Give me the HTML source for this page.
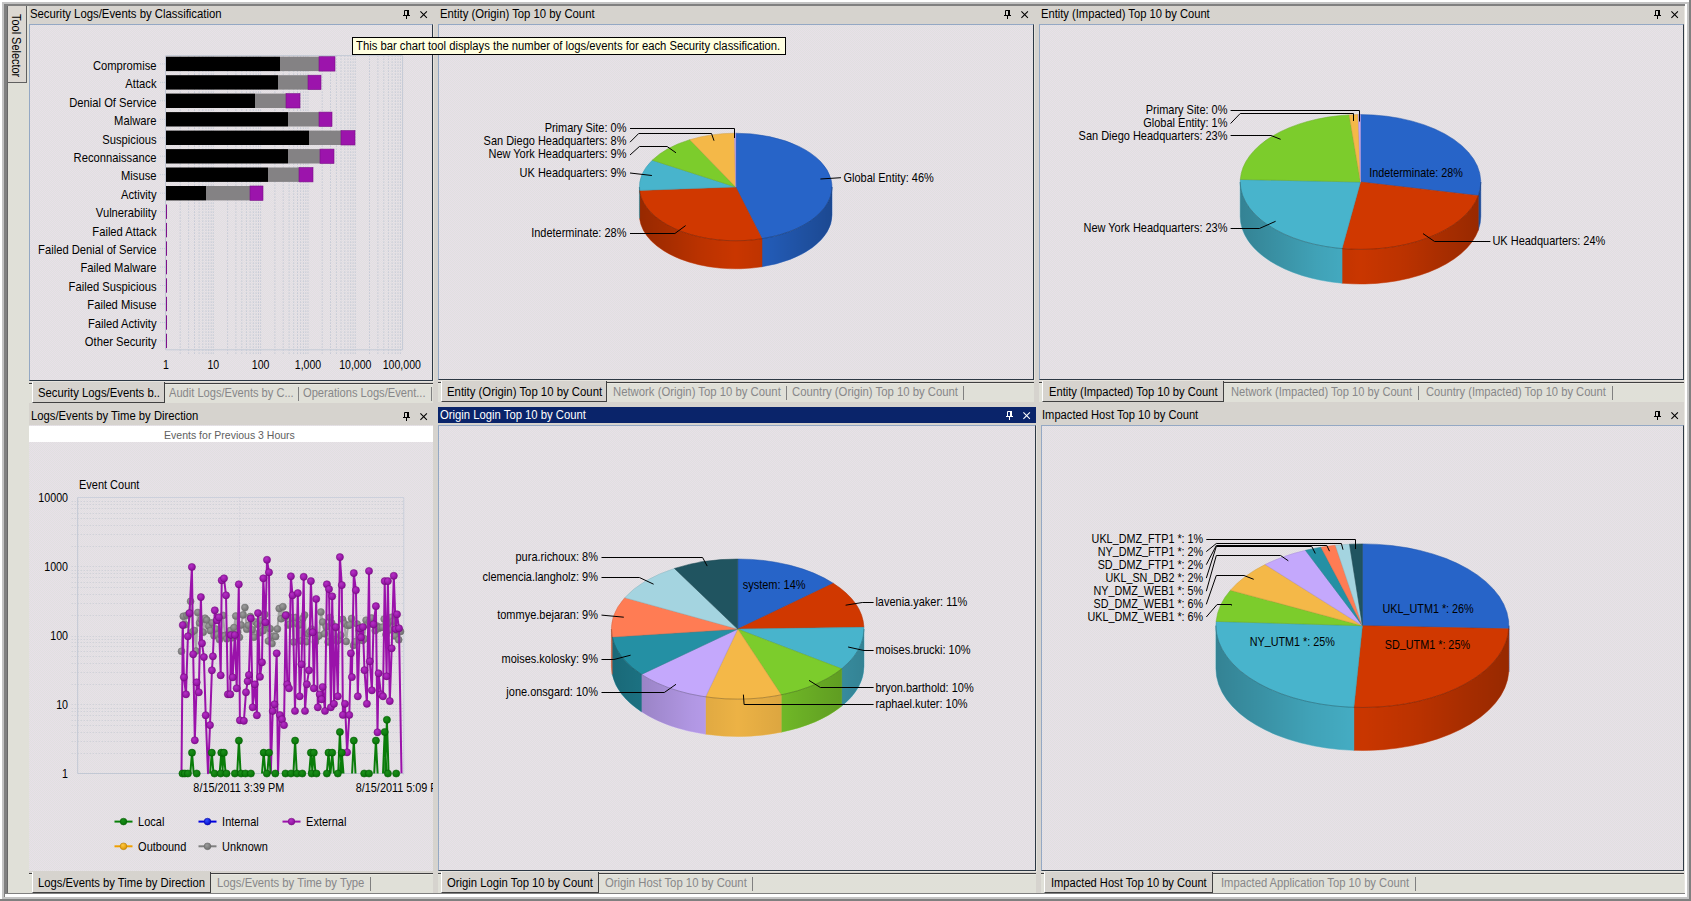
<!DOCTYPE html><html><head><meta charset="utf-8"><title>Dashboard</title><style>
html,body{margin:0;padding:0}
body{width:1691px;height:901px;position:relative;overflow:hidden;background:#d6d3ce;font-family:"Liberation Sans", Arial, sans-serif;font-size:12px;color:#000}
div{position:absolute;box-sizing:border-box;white-space:nowrap}
.cb{background:repeating-conic-gradient(#e8e0e8 0% 25%,#e0e0e0 0% 50%) 0 0/2px 2px}
.pn{border-top:1px solid #94a8c4;border-left:1px solid #94a8c4;border-right:1px solid #2c3844;border-bottom:1px solid #2c3844}
.tt{height:16px;line-height:16px;font-size:12px}
.sx{display:inline-block;transform:scaleX(.938);transform-origin:0 50%;white-space:nowrap}
.strip{background:#e0e0d8;border-top:1px solid #404040;box-shadow:inset 0 1px 0 #e9e8e1}
.tab{background:#d6d3ce;border-left:1px solid #fff;border-right:1px solid #404040;border-bottom:1px solid #404040;line-height:22px;font-size:12px}
.itab{color:#878789;font-size:12px;line-height:20px}
.sep{width:1px;background:#808080}
svg{position:absolute;left:0;top:0}
svg text{font-family:"Liberation Sans", Arial, sans-serif;font-size:12px;fill:#000}
</style></head><body>
<div style="left:0px;top:0px;width:1691px;height:2px;background:#fff"></div>
<div style="left:2px;top:2px;width:1687px;height:2px;background:#c4c4c4"></div>
<div style="left:4px;top:4px;width:1685px;height:2px;background:#808080"></div>
<div style="left:0px;top:0px;width:2px;height:901px;background:#fff"></div>
<div style="left:2px;top:2px;width:2px;height:897px;background:#c4c4c4"></div>
<div style="left:4px;top:4px;width:3px;height:893px;background:#808080"></div>
<div style="left:7px;top:6px;width:1px;height:888px;background:#686868"></div>
<div style="left:8px;top:6px;width:21px;height:887px;background:#e0e0d8"></div>
<div style="left:1684px;top:6px;width:1px;height:888px;background:#e8e6e0"></div>
<div style="left:1685px;top:4px;width:2px;height:893px;background:#fff"></div>
<div style="left:1687px;top:2px;width:2px;height:899px;background:#c4c4c4"></div>
<div style="left:1689px;top:0px;width:2px;height:901px;background:#808080"></div>
<div style="left:7px;top:893px;width:1678px;height:1px;background:#808080"></div>
<div style="left:5px;top:894px;width:1682px;height:3px;background:#fff"></div>
<div style="left:2px;top:897px;width:1687px;height:2px;background:#c4c4c4"></div>
<div style="left:0px;top:899px;width:1691px;height:2px;background:#808080"></div>
<div style="left:8px;top:6px;width:19px;height:77px;background:#dcd8d2;border-right:1px solid #606060;border-bottom:1px solid #606060"></div>
<div style="left:6.8px;top:14px;width:18px;height:64px;writing-mode:vertical-rl;font-size:12px;line-height:18px"><span style="display:inline-block;transform:scaleY(.912);transform-origin:50% 0">Tool Selector</span></div>
<div style="left:30.3px;top:6px;height:16px;line-height:16px;font-size:12px;"><span style="display:inline-block;transform:scaleX(0.9450);transform-origin:0 50%">Security Logs/Events by Classification</span></div>
<div class="cb pn" style="left:29px;top:24px;width:404px;height:357px;"></div>
<div style="left:433px;top:24px;width:1px;height:357px;background:#e6e3dd"></div>
<div style="left:29px;top:381px;width:405px;height:1px;background:#e6e3dd"></div>
<div class="strip" style="left:29px;top:383px;width:404px;height:20px;"></div>
<div class="tab" style="left:32px;top:382px;width:133px;height:21px;"></div>
<div style="left:37.5px;top:387px;height:13px;line-height:13px;font-size:12px;"><span style="display:inline-block;transform:scaleX(0.9428);transform-origin:0 50%">Security Logs/Events b..</span></div>
<div style="left:169.0px;top:387px;height:13px;line-height:13px;font-size:12px;color:#878789"><span style="display:inline-block;transform:scaleX(0.9255);transform-origin:0 50%">Audit Logs/Events by C...</span></div>
<div class="sep" style="left:298px;top:387px;width:1px;height:14px;"></div>
<div style="left:303.2px;top:387px;height:13px;line-height:13px;font-size:12px;color:#878789"><span style="display:inline-block;transform:scaleX(0.9275);transform-origin:0 50%">Operations Logs/Event...</span></div>
<div class="sep" style="left:430.5px;top:387px;width:1px;height:14px;"></div>
<div style="left:439.6px;top:6px;height:16px;line-height:16px;font-size:12px;"><span style="display:inline-block;transform:scaleX(0.9435);transform-origin:0 50%">Entity (Origin) Top 10 by Count</span></div>
<div class="cb pn" style="left:438px;top:24px;width:596px;height:356px;"></div>
<div style="left:1034px;top:24px;width:1px;height:356px;background:#e6e3dd"></div>
<div style="left:438px;top:380px;width:597px;height:1px;background:#e6e3dd"></div>
<div class="strip" style="left:438px;top:382px;width:596px;height:20px;"></div>
<div class="tab" style="left:441px;top:381px;width:166px;height:21px;"></div>
<div style="left:446.5px;top:386px;height:13px;line-height:13px;font-size:12px;"><span style="display:inline-block;transform:scaleX(0.9466);transform-origin:0 50%">Entity (Origin) Top 10 by Count</span></div>
<div style="left:612.6999999999999px;top:386px;height:13px;line-height:13px;font-size:12px;color:#878789"><span style="display:inline-block;transform:scaleX(0.9435);transform-origin:0 50%">Network (Origin) Top 10 by Count</span></div>
<div class="sep" style="left:785.5px;top:386px;width:1px;height:14px;"></div>
<div style="left:791.5999999999999px;top:386px;height:13px;line-height:13px;font-size:12px;color:#878789"><span style="display:inline-block;transform:scaleX(0.9439);transform-origin:0 50%">Country (Origin) Top 10 by Count</span></div>
<div class="sep" style="left:962.5px;top:386px;width:1px;height:14px;"></div>
<div style="left:1040.6px;top:6px;height:16px;line-height:16px;font-size:12px;"><span style="display:inline-block;transform:scaleX(0.9310);transform-origin:0 50%">Entity (Impacted) Top 10 by Count</span></div>
<div class="cb pn" style="left:1039px;top:24px;width:645px;height:356px;"></div>
<div style="left:1684px;top:24px;width:1px;height:356px;background:#e6e3dd"></div>
<div style="left:1039px;top:380px;width:646px;height:1px;background:#e6e3dd"></div>
<div class="strip" style="left:1039px;top:382px;width:645px;height:20px;"></div>
<div class="tab" style="left:1042px;top:381px;width:182px;height:21px;"></div>
<div style="left:1049.0px;top:386px;height:13px;line-height:13px;font-size:12px;"><span style="display:inline-block;transform:scaleX(0.9299);transform-origin:0 50%">Entity (Impacted) Top 10 by Count</span></div>
<div style="left:1231.2px;top:386px;height:13px;line-height:13px;font-size:12px;color:#878789"><span style="display:inline-block;transform:scaleX(0.9277);transform-origin:0 50%">Network (Impacted) Top 10 by Count</span></div>
<div class="sep" style="left:1418px;top:386px;width:1px;height:14px;"></div>
<div style="left:1425.6px;top:386px;height:13px;line-height:13px;font-size:12px;color:#878789"><span style="display:inline-block;transform:scaleX(0.9311);transform-origin:0 50%">Country (Impacted) Top 10 by Count</span></div>
<div class="sep" style="left:1611.5px;top:386px;width:1px;height:14px;"></div>
<div style="left:30.6px;top:408px;height:16px;line-height:16px;font-size:12px;"><span style="display:inline-block;transform:scaleX(0.9400);transform-origin:0 50%">Logs/Events by Time by Direction</span></div>
<div class="cb" style="left:29px;top:425px;width:404px;height:446px;"></div>
<div class="strip" style="left:29px;top:873px;width:404px;height:20px;"></div>
<div class="tab" style="left:32px;top:872px;width:179px;height:21px;"></div>
<div style="left:37.599999999999994px;top:877px;height:13px;line-height:13px;font-size:12px;"><span style="display:inline-block;transform:scaleX(0.9372);transform-origin:0 50%">Logs/Events by Time by Direction</span></div>
<div style="left:216.9px;top:877px;height:13px;line-height:13px;font-size:12px;color:#878789"><span style="display:inline-block;transform:scaleX(0.9417);transform-origin:0 50%">Logs/Events by Time by Type</span></div>
<div class="sep" style="left:370px;top:877px;width:1px;height:14px;"></div>
<div style="left:438px;top:407px;width:598px;height:16px;background:#0a246a"></div>
<div style="left:439.6px;top:407px;height:16px;line-height:16px;font-size:12px;color:#fff"><span style="display:inline-block;transform:scaleX(0.9400);transform-origin:0 50%">Origin Login Top 10 by Count</span></div>
<div class="cb pn" style="left:438px;top:425px;width:598px;height:446px;"></div>
<div style="left:1036px;top:425px;width:1px;height:446px;background:#e6e3dd"></div>
<div style="left:438px;top:871px;width:599px;height:1px;background:#e6e3dd"></div>
<div class="strip" style="left:438px;top:873px;width:598px;height:20px;"></div>
<div class="tab" style="left:441px;top:872px;width:158px;height:21px;"></div>
<div style="left:446.5px;top:877px;height:13px;line-height:13px;font-size:12px;"><span style="display:inline-block;transform:scaleX(0.9400);transform-origin:0 50%">Origin Login Top 10 by Count</span></div>
<div style="left:604.5999999999999px;top:877px;height:13px;line-height:13px;font-size:12px;color:#878789"><span style="display:inline-block;transform:scaleX(0.9420);transform-origin:0 50%">Origin Host Top 10 by Count</span></div>
<div class="sep" style="left:751.5px;top:877px;width:1px;height:14px;"></div>
<div style="left:1042.3px;top:407px;height:16px;line-height:16px;font-size:12px;"><span style="display:inline-block;transform:scaleX(0.9305);transform-origin:0 50%">Impacted Host Top 10 by Count</span></div>
<div class="cb pn" style="left:1041px;top:425px;width:643px;height:446px;"></div>
<div style="left:1684px;top:425px;width:1px;height:446px;background:#e6e3dd"></div>
<div style="left:1041px;top:871px;width:644px;height:1px;background:#e6e3dd"></div>
<div class="strip" style="left:1041px;top:873px;width:643px;height:20px;"></div>
<div class="tab" style="left:1044px;top:872px;width:169px;height:21px;"></div>
<div style="left:1050.8px;top:877px;height:13px;line-height:13px;font-size:12px;"><span style="display:inline-block;transform:scaleX(0.9275);transform-origin:0 50%">Impacted Host Top 10 by Count</span></div>
<div style="left:1220.6px;top:877px;height:13px;line-height:13px;font-size:12px;color:#878789"><span style="display:inline-block;transform:scaleX(0.9342);transform-origin:0 50%">Impacted Application Top 10 by Count</span></div>
<div class="sep" style="left:1414.5px;top:877px;width:1px;height:14px;"></div>
<div style="left:29px;top:426px;width:404px;height:16px;background:#fff;text-align:center;line-height:16px;color:#606060"><span class="sx" style="transform-origin:50% 50%;font-size:11px;transform:scaleX(.955);position:relative;top:1px;left:-1.5px">Events for Previous 3 Hours</span></div>
<div style="left:352px;top:37px;width:434px;height:18px;background:#ffffe1;border:1px solid #000;line-height:16px;padding-left:3px;z-index:5"><span class="sx">This bar chart tool displays the number of logs/events for each Security classification.</span></div>
<svg width="1691" height="901" viewBox="0 0 1691 901">
<path d="M420.4 11.4L426.9 17.9M426.9 11.4L420.4 17.9" stroke="#000" stroke-width="1.05" fill="none"/><path d="M404.5 15.5V10.5H408V15.5M403 15.5H410M406.5 16V19" stroke="#000" stroke-width="1" fill="none"/><rect x="407" y="10" width="2" height="6" fill="#000"/>
<path d="M1021.4 11.4L1027.9 17.9M1027.9 11.4L1021.4 17.9" stroke="#000" stroke-width="1.05" fill="none"/><path d="M1005.5 15.5V10.5H1009V15.5M1004 15.5H1011M1007.5 16V19" stroke="#000" stroke-width="1" fill="none"/><rect x="1008" y="10" width="2" height="6" fill="#000"/>
<path d="M1671.4 11.4L1677.9 17.9M1677.9 11.4L1671.4 17.9" stroke="#000" stroke-width="1.05" fill="none"/><path d="M1655.5 15.5V10.5H1659V15.5M1654 15.5H1661M1657.5 16V19" stroke="#000" stroke-width="1" fill="none"/><rect x="1658" y="10" width="2" height="6" fill="#000"/>
<path d="M420.4 413.4L426.9 419.9M426.9 413.4L420.4 419.9" stroke="#000" stroke-width="1.05" fill="none"/><path d="M404.5 417.5V412.5H408V417.5M403 417.5H410M406.5 418V421" stroke="#000" stroke-width="1" fill="none"/><rect x="407" y="412" width="2" height="6" fill="#000"/>
<path d="M1023.4 412.4L1029.9 418.9M1029.9 412.4L1023.4 418.9" stroke="#fff" stroke-width="1.05" fill="none"/><path d="M1007.5 416.5V411.5H1011V416.5M1006 416.5H1013M1009.5 417V420" stroke="#fff" stroke-width="1" fill="none"/><rect x="1010" y="411" width="2" height="6" fill="#fff"/>
<path d="M1671.4 412.4L1677.9 418.9M1677.9 412.4L1671.4 418.9" stroke="#000" stroke-width="1.05" fill="none"/><path d="M1655.5 416.5V411.5H1659V416.5M1654 416.5H1661M1657.5 417V420" stroke="#000" stroke-width="1" fill="none"/><rect x="1658" y="411" width="2" height="6" fill="#000"/>
<path d="M180.2 55.6V353.8M188.6 55.6V353.8M194.5 55.6V353.8M199.1 55.6V353.8M202.8 55.6V353.8M206.0 55.6V353.8M208.7 55.6V353.8M211.2 55.6V353.8M227.6 55.6V353.8M235.9 55.6V353.8M241.8 55.6V353.8M246.4 55.6V353.8M250.1 55.6V353.8M253.3 55.6V353.8M256.1 55.6V353.8M258.5 55.6V353.8M213.3 55.6V353.8M274.9 55.6V353.8M283.2 55.6V353.8M289.1 55.6V353.8M293.7 55.6V353.8M297.5 55.6V353.8M300.6 55.6V353.8M303.4 55.6V353.8M305.8 55.6V353.8M260.6 55.6V353.8M322.2 55.6V353.8M330.5 55.6V353.8M336.4 55.6V353.8M341.0 55.6V353.8M344.8 55.6V353.8M348.0 55.6V353.8M350.7 55.6V353.8M353.1 55.6V353.8M308.0 55.6V353.8M369.5 55.6V353.8M377.9 55.6V353.8M383.8 55.6V353.8M388.4 55.6V353.8M392.1 55.6V353.8M395.3 55.6V353.8M398.0 55.6V353.8M400.4 55.6V353.8M355.3 55.6V353.8" stroke="#b4bece" stroke-width="1" stroke-dasharray="1 2" fill="none"/>
<path d="M166.0 55.6H402.6V349.8H166.0" stroke="#c4cad6" stroke-width="1" fill="none"/>
<path d="M165.5 55.6V349.8" stroke="#c0c6d4" stroke-width="1" fill="none"/>
<text transform="translate(156.5 70.0) scale(0.935 1)" text-anchor="end">Compromise</text>
<path d="M160.0 63.9H165.0" stroke="#c4ccd8" stroke-dasharray="1 1" fill="none"/>
<rect x="166.0" y="56.7" width="114.0" height="14.4" fill="#000"/>
<rect x="280" y="56.7" width="39" height="14.4" fill="#848284"/>
<rect x="319" y="56.7" width="16" height="14.4" fill="#9c14ac" stroke="#7a1088" stroke-width=".6"/>
<text transform="translate(156.5 88.4) scale(0.935 1)" text-anchor="end">Attack</text>
<path d="M160.0 82.4H165.0" stroke="#c4ccd8" stroke-dasharray="1 1" fill="none"/>
<rect x="166.0" y="75.2" width="112.0" height="14.4" fill="#000"/>
<rect x="278" y="75.2" width="30" height="14.4" fill="#848284"/>
<rect x="308" y="75.2" width="13" height="14.4" fill="#9c14ac" stroke="#7a1088" stroke-width=".6"/>
<text transform="translate(156.5 106.8) scale(0.935 1)" text-anchor="end">Denial Of Service</text>
<path d="M160.0 100.8H165.0" stroke="#c4ccd8" stroke-dasharray="1 1" fill="none"/>
<rect x="166.0" y="93.6" width="89.0" height="14.4" fill="#000"/>
<rect x="255" y="93.6" width="31" height="14.4" fill="#848284"/>
<rect x="286" y="93.6" width="14" height="14.4" fill="#9c14ac" stroke="#7a1088" stroke-width=".6"/>
<text transform="translate(156.5 125.2) scale(0.935 1)" text-anchor="end">Malware</text>
<path d="M160.0 119.3H165.0" stroke="#c4ccd8" stroke-dasharray="1 1" fill="none"/>
<rect x="166.0" y="112.1" width="122.0" height="14.4" fill="#000"/>
<rect x="288" y="112.1" width="31" height="14.4" fill="#848284"/>
<rect x="319" y="112.1" width="13" height="14.4" fill="#9c14ac" stroke="#7a1088" stroke-width=".6"/>
<text transform="translate(156.5 143.6) scale(0.935 1)" text-anchor="end">Suspicious</text>
<path d="M160.0 137.8H165.0" stroke="#c4ccd8" stroke-dasharray="1 1" fill="none"/>
<rect x="166.0" y="130.6" width="143.0" height="14.4" fill="#000"/>
<rect x="309" y="130.6" width="32" height="14.4" fill="#848284"/>
<rect x="341" y="130.6" width="14" height="14.4" fill="#9c14ac" stroke="#7a1088" stroke-width=".6"/>
<text transform="translate(156.5 162.0) scale(0.935 1)" text-anchor="end">Reconnaissance</text>
<path d="M160.0 156.2H165.0" stroke="#c4ccd8" stroke-dasharray="1 1" fill="none"/>
<rect x="166.0" y="149.1" width="122.0" height="14.4" fill="#000"/>
<rect x="288" y="149.1" width="32" height="14.4" fill="#848284"/>
<rect x="320" y="149.1" width="14" height="14.4" fill="#9c14ac" stroke="#7a1088" stroke-width=".6"/>
<text transform="translate(156.5 180.4) scale(0.935 1)" text-anchor="end">Misuse</text>
<path d="M160.0 174.7H165.0" stroke="#c4ccd8" stroke-dasharray="1 1" fill="none"/>
<rect x="166.0" y="167.5" width="102.0" height="14.4" fill="#000"/>
<rect x="268" y="167.5" width="31" height="14.4" fill="#848284"/>
<rect x="299" y="167.5" width="14" height="14.4" fill="#9c14ac" stroke="#7a1088" stroke-width=".6"/>
<text transform="translate(156.5 198.8) scale(0.935 1)" text-anchor="end">Activity</text>
<path d="M160.0 193.2H165.0" stroke="#c4ccd8" stroke-dasharray="1 1" fill="none"/>
<rect x="166.0" y="186.0" width="40.0" height="14.4" fill="#000"/>
<rect x="206" y="186.0" width="44" height="14.4" fill="#848284"/>
<rect x="250" y="186.0" width="13" height="14.4" fill="#9c14ac" stroke="#7a1088" stroke-width=".6"/>
<text transform="translate(156.5 217.2) scale(0.935 1)" text-anchor="end">Vulnerability</text>
<path d="M160.0 211.7H165.0" stroke="#c4ccd8" stroke-dasharray="1 1" fill="none"/>
<rect x="166.0" y="204.5" width="1" height="14.4" fill="#80108a"/>
<text transform="translate(156.5 235.6) scale(0.935 1)" text-anchor="end">Failed Attack</text>
<path d="M160.0 230.1H165.0" stroke="#c4ccd8" stroke-dasharray="1 1" fill="none"/>
<rect x="166.0" y="222.9" width="1" height="14.4" fill="#80108a"/>
<text transform="translate(156.5 254.0) scale(0.935 1)" text-anchor="end">Failed Denial of Service</text>
<path d="M160.0 248.6H165.0" stroke="#c4ccd8" stroke-dasharray="1 1" fill="none"/>
<rect x="166.0" y="241.4" width="1" height="14.4" fill="#80108a"/>
<text transform="translate(156.5 272.4) scale(0.935 1)" text-anchor="end">Failed Malware</text>
<path d="M160.0 267.1H165.0" stroke="#c4ccd8" stroke-dasharray="1 1" fill="none"/>
<rect x="166.0" y="259.9" width="1" height="14.4" fill="#80108a"/>
<text transform="translate(156.5 290.8) scale(0.935 1)" text-anchor="end">Failed Suspicious</text>
<path d="M160.0 285.5H165.0" stroke="#c4ccd8" stroke-dasharray="1 1" fill="none"/>
<rect x="166.0" y="278.3" width="1" height="14.4" fill="#80108a"/>
<text transform="translate(156.5 309.2) scale(0.935 1)" text-anchor="end">Failed Misuse</text>
<path d="M160.0 304.0H165.0" stroke="#c4ccd8" stroke-dasharray="1 1" fill="none"/>
<rect x="166.0" y="296.8" width="1" height="14.4" fill="#80108a"/>
<text transform="translate(156.5 327.6) scale(0.935 1)" text-anchor="end">Failed Activity</text>
<path d="M160.0 322.5H165.0" stroke="#c4ccd8" stroke-dasharray="1 1" fill="none"/>
<rect x="166.0" y="315.3" width="1" height="14.4" fill="#80108a"/>
<text transform="translate(156.5 346.0) scale(0.935 1)" text-anchor="end">Other Security</text>
<path d="M160.0 340.9H165.0" stroke="#c4ccd8" stroke-dasharray="1 1" fill="none"/>
<rect x="166.0" y="333.7" width="1" height="14.4" fill="#80108a"/>
<text transform="translate(166.0 369.0) scale(0.88 1)" text-anchor="middle">1</text>
<text transform="translate(213.3 369.0) scale(0.88 1)" text-anchor="middle">10</text>
<text transform="translate(260.6 369.0) scale(0.88 1)" text-anchor="middle">100</text>
<text transform="translate(308.0 369.0) scale(0.88 1)" text-anchor="middle">1,000</text>
<text transform="translate(355.3 369.0) scale(0.88 1)" text-anchor="middle">10,000</text>
<text transform="translate(401.8 369.0) scale(0.88 1)" text-anchor="middle">100,000</text>
<defs><linearGradient id="pg1" gradientUnits="userSpaceOnUse" x1="639.4000000000001" y1="0" x2="832.0" y2="0"><stop offset="0" stop-color="#000" stop-opacity=".25"/><stop offset=".15" stop-color="#000" stop-opacity=".17"/><stop offset=".32" stop-color="#000" stop-opacity=".07"/><stop offset=".5" stop-color="#000" stop-opacity="0"/><stop offset=".68" stop-color="#000" stop-opacity=".07"/><stop offset=".85" stop-color="#000" stop-opacity=".17"/><stop offset="1" stop-color="#000" stop-opacity=".25"/></linearGradient></defs>
<path d="M832.00 187.00A96.3 53.8 0 0 1 761.99 238.76L761.99 266.76A96.3 53.8 0 0 0 832.00 215.00Z" fill="#2561c2" stroke="#2561c2" stroke-width=".5"/>
<path d="M761.99 238.76A96.3 53.8 0 0 1 639.59 190.38L639.59 218.38A96.3 53.8 0 0 0 761.99 266.76Z" fill="#c93600" stroke="#c93600" stroke-width=".5"/>
<path d="M639.59 190.38A96.3 53.8 0 0 1 639.40 187.00L639.40 215.00A96.3 53.8 0 0 0 639.59 218.38Z" fill="#45aec5" stroke="#45aec5" stroke-width=".5"/>
<path d="M832.0 187A96.3 53.8 0 0 1 639.4000000000001 187L639.4000000000001 215A96.3 53.8 0 0 0 832.0 215Z" fill="url(#pg1)"/>
<path d="M735.7 187L735.70 133.20A96.3 53.8 0 0 1 761.99 238.76Z" fill="#2764c8" stroke="#2155aa" stroke-width=".5"/>
<path d="M735.7 187L761.99 238.76A96.3 53.8 0 0 1 639.59 190.38Z" fill="#d03800" stroke="#b02f00" stroke-width=".5"/>
<path d="M735.7 187L639.59 190.38A96.3 53.8 0 0 1 652.20 160.20Z" fill="#48b4cc" stroke="#3d99ad" stroke-width=".5"/>
<path d="M735.7 187L652.20 160.20A96.3 53.8 0 0 1 689.84 139.69Z" fill="#7ccc2c" stroke="#69ad25" stroke-width=".5"/>
<path d="M735.7 187L689.84 139.69A96.3 53.8 0 0 1 734.49 133.20Z" fill="#f4b848" stroke="#cf9c3d" stroke-width=".5"/>
<path d="M735.7 187L734.49 133.20A96.3 53.8 0 0 1 735.70 133.20Z" fill="#c4a8fc" stroke="#a68ed6" stroke-width=".5"/>
<path d="M832.0 187A96.3 53.8 0 0 1 639.4000000000001 187" fill="none" stroke="#000" stroke-opacity=".25" stroke-width=".8"/>
<text transform="translate(626.4 131.6) scale(0.915 1)" text-anchor="end">Primary Site: 0%</text>
<text transform="translate(626.4 145.0) scale(0.915 1)" text-anchor="end">San Diego Headquarters: 8%</text>
<text transform="translate(626.4 158.2) scale(0.915 1)" text-anchor="end">New York Headquarters: 9%</text>
<text transform="translate(626.4 177.0) scale(0.915 1)" text-anchor="end">UK Headquarters: 9%</text>
<text transform="translate(626.4 237.3) scale(0.915 1)" text-anchor="end">Indeterminate: 28%</text>
<text transform="translate(843.5 182.0) scale(0.915 1)" text-anchor="start">Global Entity: 46%</text>
<path d="M630.0 128.5L734.5 128.5L734.5 138.0" fill="none" stroke="#000" stroke-width="1"/>
<path d="M630.0 142.2L638.7 133.5L711.5 133.5L714.0 140.7" fill="none" stroke="#000" stroke-width="1"/>
<path d="M630.0 155.0L639.4 146.5L667.1 146.5L676.0 152.8" fill="none" stroke="#000" stroke-width="1"/>
<path d="M630.0 173.0L651.9 175.5" fill="none" stroke="#000" stroke-width="1"/>
<path d="M630.0 233.5L674.9 233.5L685.6 225.6" fill="none" stroke="#000" stroke-width="1"/>
<path d="M841.0 177.7L820.4 179.0" fill="none" stroke="#000" stroke-width="1"/>
<defs><linearGradient id="pg2" gradientUnits="userSpaceOnUse" x1="1240.2" y1="0" x2="1480.8" y2="0"><stop offset="0" stop-color="#000" stop-opacity=".25"/><stop offset=".15" stop-color="#000" stop-opacity=".17"/><stop offset=".32" stop-color="#000" stop-opacity=".07"/><stop offset=".5" stop-color="#000" stop-opacity="0"/><stop offset=".68" stop-color="#000" stop-opacity=".07"/><stop offset=".85" stop-color="#000" stop-opacity=".17"/><stop offset="1" stop-color="#000" stop-opacity=".25"/></linearGradient></defs>
<path d="M1480.80 182.00A120.3 67.4 0 0 1 1478.30 195.67L1478.30 230.27A120.3 67.4 0 0 0 1480.80 216.60Z" fill="#2561c2" stroke="#2561c2" stroke-width=".5"/>
<path d="M1478.30 195.67A120.3 67.4 0 0 1 1342.05 248.60L1342.05 283.20A120.3 67.4 0 0 0 1478.30 230.27Z" fill="#c93600" stroke="#c93600" stroke-width=".5"/>
<path d="M1342.05 248.60A120.3 67.4 0 0 1 1240.20 182.00L1240.20 216.60A120.3 67.4 0 0 0 1342.05 283.20Z" fill="#45aec5" stroke="#45aec5" stroke-width=".5"/>
<path d="M1480.8 182A120.3 67.4 0 0 1 1240.2 182L1240.2 216.6A120.3 67.4 0 0 0 1480.8 216.6Z" fill="url(#pg2)"/>
<path d="M1360.5 182L1360.50 114.60A120.3 67.4 0 0 1 1478.30 195.67Z" fill="#2764c8" stroke="#2155aa" stroke-width=".5"/>
<path d="M1360.5 182L1478.30 195.67A120.3 67.4 0 0 1 1342.05 248.60Z" fill="#d03800" stroke="#b02f00" stroke-width=".5"/>
<path d="M1360.5 182L1342.05 248.60A120.3 67.4 0 0 1 1240.29 179.46Z" fill="#48b4cc" stroke="#3d99ad" stroke-width=".5"/>
<path d="M1360.5 182L1240.29 179.46A120.3 67.4 0 0 1 1349.18 114.90Z" fill="#7ccc2c" stroke="#69ad25" stroke-width=".5"/>
<path d="M1360.5 182L1349.18 114.90A120.3 67.4 0 0 1 1358.23 114.61Z" fill="#f4b848" stroke="#cf9c3d" stroke-width=".5"/>
<path d="M1360.5 182L1358.23 114.61A120.3 67.4 0 0 1 1360.50 114.60Z" fill="#c4a8fc" stroke="#a68ed6" stroke-width=".5"/>
<path d="M1480.8 182A120.3 67.4 0 0 1 1240.2 182" fill="none" stroke="#000" stroke-opacity=".25" stroke-width=".8"/>
<text transform="translate(1227.5 113.9) scale(0.915 1)" text-anchor="end">Primary Site: 0%</text>
<text transform="translate(1227.5 126.6) scale(0.915 1)" text-anchor="end">Global Entity: 1%</text>
<text transform="translate(1227.5 140.1) scale(0.915 1)" text-anchor="end">San Diego Headquarters: 23%</text>
<text transform="translate(1227.5 231.7) scale(0.915 1)" text-anchor="end">New York Headquarters: 23%</text>
<text transform="translate(1492.4 245.3) scale(0.915 1)" text-anchor="start">UK Headquarters: 24%</text>
<text transform="translate(1369.2 177.3) scale(0.9 1)" text-anchor="start">Indeterminate: 28%</text>
<path d="M1230.6 110.5L1359.5 110.5L1359.5 121.5" fill="none" stroke="#000" stroke-width="1"/>
<path d="M1230.6 123.5L1240.2 113.5L1353.5 113.5L1353.5 121.0" fill="none" stroke="#000" stroke-width="1"/>
<path d="M1230.6 135.5L1271.0 135.5L1280.6 139.3" fill="none" stroke="#000" stroke-width="1"/>
<path d="M1230.6 228.5L1259.4 228.5L1275.6 221.3" fill="none" stroke="#000" stroke-width="1"/>
<path d="M1490.4 241.5L1434.6 241.5L1423.0 233.6" fill="none" stroke="#000" stroke-width="1"/>
<defs><linearGradient id="pg3" gradientUnits="userSpaceOnUse" x1="611.4000000000001" y1="0" x2="864.0" y2="0"><stop offset="0" stop-color="#000" stop-opacity=".25"/><stop offset=".15" stop-color="#000" stop-opacity=".17"/><stop offset=".32" stop-color="#000" stop-opacity=".07"/><stop offset=".5" stop-color="#000" stop-opacity="0"/><stop offset=".68" stop-color="#000" stop-opacity=".07"/><stop offset=".85" stop-color="#000" stop-opacity=".17"/><stop offset="1" stop-color="#000" stop-opacity=".25"/></linearGradient></defs>
<path d="M864.00 629.10A126.3 70.1 0 0 1 841.71 668.87L841.71 706.17A126.3 70.1 0 0 0 864.00 666.40Z" fill="#45aec5" stroke="#45aec5" stroke-width=".5"/>
<path d="M841.71 668.87A126.3 70.1 0 0 1 781.23 694.91L781.23 732.21A126.3 70.1 0 0 0 841.71 706.17Z" fill="#78c52a" stroke="#78c52a" stroke-width=".5"/>
<path d="M781.23 694.91A126.3 70.1 0 0 1 705.52 696.89L705.52 734.19A126.3 70.1 0 0 0 781.23 732.21Z" fill="#ecb245" stroke="#ecb245" stroke-width=".5"/>
<path d="M705.52 696.89A126.3 70.1 0 0 1 641.40 674.46L641.40 711.76A126.3 70.1 0 0 0 705.52 734.19Z" fill="#bea2f4" stroke="#bea2f4" stroke-width=".5"/>
<path d="M641.40 674.46A126.3 70.1 0 0 1 612.21 637.01L612.21 674.31A126.3 70.1 0 0 0 641.40 711.76Z" fill="#228b9f" stroke="#228b9f" stroke-width=".5"/>
<path d="M612.21 637.01A126.3 70.1 0 0 1 611.40 629.10L611.40 666.40A126.3 70.1 0 0 0 612.21 674.31Z" fill="#f77851" stroke="#f77851" stroke-width=".5"/>
<path d="M864.0 629.1A126.3 70.1 0 0 1 611.4000000000001 629.1L611.4000000000001 666.4A126.3 70.1 0 0 0 864.0 666.4Z" fill="url(#pg3)"/>
<path d="M737.7 629.1L737.70 559.00A126.3 70.1 0 0 1 833.33 583.31Z" fill="#2764c8" stroke="#2155aa" stroke-width=".5"/>
<path d="M737.7 629.1L833.33 583.31A126.3 70.1 0 0 1 863.96 627.34Z" fill="#d03800" stroke="#b02f00" stroke-width=".5"/>
<path d="M737.7 629.1L863.96 627.34A126.3 70.1 0 0 1 841.71 668.87Z" fill="#48b4cc" stroke="#3d99ad" stroke-width=".5"/>
<path d="M737.7 629.1L841.71 668.87A126.3 70.1 0 0 1 781.23 694.91Z" fill="#7ccc2c" stroke="#69ad25" stroke-width=".5"/>
<path d="M737.7 629.1L781.23 694.91A126.3 70.1 0 0 1 705.52 696.89Z" fill="#f4b848" stroke="#cf9c3d" stroke-width=".5"/>
<path d="M737.7 629.1L705.52 696.89A126.3 70.1 0 0 1 641.40 674.46Z" fill="#c4a8fc" stroke="#a68ed6" stroke-width=".5"/>
<path d="M737.7 629.1L641.40 674.46A126.3 70.1 0 0 1 612.21 637.01Z" fill="#2490a4" stroke="#1e7a8b" stroke-width=".5"/>
<path d="M737.7 629.1L612.21 637.01A126.3 70.1 0 0 1 624.81 597.67Z" fill="#ff7c54" stroke="#d86947" stroke-width=".5"/>
<path d="M737.7 629.1L624.81 597.67A126.3 70.1 0 0 1 674.44 568.43Z" fill="#a4d4e0" stroke="#8bb4be" stroke-width=".5"/>
<path d="M737.7 629.1L674.44 568.43A126.3 70.1 0 0 1 737.70 559.00Z" fill="#205460" stroke="#1b4751" stroke-width=".5"/>
<path d="M864.0 629.1A126.3 70.1 0 0 1 611.4000000000001 629.1" fill="none" stroke="#000" stroke-opacity=".25" stroke-width=".8"/>
<text transform="translate(597.9 561.2) scale(0.915 1)" text-anchor="end">pura.richoux: 8%</text>
<text transform="translate(597.9 581.1) scale(0.915 1)" text-anchor="end">clemencia.langholz: 9%</text>
<text transform="translate(597.9 619.4) scale(0.915 1)" text-anchor="end">tommye.bejaran: 9%</text>
<text transform="translate(597.9 663.1) scale(0.915 1)" text-anchor="end">moises.kolosky: 9%</text>
<text transform="translate(597.9 696.4) scale(0.915 1)" text-anchor="end">jone.onsgard: 10%</text>
<text transform="translate(875.4 606.3) scale(0.915 1)" text-anchor="start">lavenia.yaker: 11%</text>
<text transform="translate(875.4 654.2) scale(0.915 1)" text-anchor="start">moises.brucki: 10%</text>
<text transform="translate(875.4 691.8) scale(0.915 1)" text-anchor="start">bryon.barthold: 10%</text>
<text transform="translate(875.4 708.1) scale(0.915 1)" text-anchor="start">raphael.kuter: 10%</text>
<text transform="translate(742.7 589.2) scale(0.915 1)" text-anchor="start">system: 14%</text>
<path d="M601.5 557.5L702.6 557.5L707.2 566.1" fill="none" stroke="#000" stroke-width="1"/>
<path d="M601.5 577.5L639.4 577.5L653.6 584.2" fill="none" stroke="#000" stroke-width="1"/>
<path d="M601.5 615.1L623.8 617.2" fill="none" stroke="#000" stroke-width="1"/>
<path d="M601.5 659.5L613.9 659.5L630.6 655.2" fill="none" stroke="#000" stroke-width="1"/>
<path d="M601.5 692.5L664.3 692.5L676.0 684.3" fill="none" stroke="#000" stroke-width="1"/>
<path d="M873.6 602.5L862.3 602.5L845.6 605.2" fill="none" stroke="#000" stroke-width="1"/>
<path d="M873.6 650.5L864.0 650.5L848.1 647.0" fill="none" stroke="#000" stroke-width="1"/>
<path d="M873.6 687.5L820.4 687.5L809.0 680.4" fill="none" stroke="#000" stroke-width="1"/>
<path d="M873.6 704.5L744.1 704.5L743.4 694.6" fill="none" stroke="#000" stroke-width="1"/>
<defs><linearGradient id="pg4" gradientUnits="userSpaceOnUse" x1="1215.9" y1="0" x2="1508.9" y2="0"><stop offset="0" stop-color="#000" stop-opacity=".25"/><stop offset=".15" stop-color="#000" stop-opacity=".17"/><stop offset=".32" stop-color="#000" stop-opacity=".07"/><stop offset=".5" stop-color="#000" stop-opacity="0"/><stop offset=".68" stop-color="#000" stop-opacity=".07"/><stop offset=".85" stop-color="#000" stop-opacity=".17"/><stop offset="1" stop-color="#000" stop-opacity=".25"/></linearGradient></defs>
<path d="M1508.90 625.70A146.5 81.8 0 0 1 1508.79 628.85L1508.79 671.85A146.5 81.8 0 0 0 1508.90 668.70Z" fill="#2561c2" stroke="#2561c2" stroke-width=".5"/>
<path d="M1508.79 628.85A146.5 81.8 0 0 1 1353.89 707.36L1353.89 750.36A146.5 81.8 0 0 0 1508.79 671.85Z" fill="#c93600" stroke="#c93600" stroke-width=".5"/>
<path d="M1353.89 707.36A146.5 81.8 0 0 1 1215.90 625.70L1215.90 668.70A146.5 81.8 0 0 0 1353.89 750.36Z" fill="#45aec5" stroke="#45aec5" stroke-width=".5"/>
<path d="M1508.9 625.7A146.5 81.8 0 0 1 1215.9 625.7L1215.9 668.7A146.5 81.8 0 0 0 1508.9 668.7Z" fill="url(#pg4)"/>
<path d="M1362.4 625.7L1362.40 543.90A146.5 81.8 0 0 1 1508.79 628.85Z" fill="#2764c8" stroke="#2155aa" stroke-width=".5"/>
<path d="M1362.4 625.7L1508.79 628.85A146.5 81.8 0 0 1 1353.89 707.36Z" fill="#d03800" stroke="#b02f00" stroke-width=".5"/>
<path d="M1362.4 625.7L1353.89 707.36A146.5 81.8 0 0 1 1216.10 621.40Z" fill="#48b4cc" stroke="#3d99ad" stroke-width=".5"/>
<path d="M1362.4 625.7L1216.10 621.40A146.5 81.8 0 0 1 1230.40 590.22Z" fill="#7ccc2c" stroke="#69ad25" stroke-width=".5"/>
<path d="M1362.4 625.7L1230.40 590.22A146.5 81.8 0 0 1 1265.13 564.53Z" fill="#f4b848" stroke="#cf9c3d" stroke-width=".5"/>
<path d="M1362.4 625.7L1265.13 564.53A146.5 81.8 0 0 1 1305.46 550.33Z" fill="#c4a8fc" stroke="#a68ed6" stroke-width=".5"/>
<path d="M1362.4 625.7L1305.46 550.33A146.5 81.8 0 0 1 1321.07 547.22Z" fill="#2490a4" stroke="#1e7a8b" stroke-width=".5"/>
<path d="M1362.4 625.7L1321.07 547.22A146.5 81.8 0 0 1 1335.39 545.30Z" fill="#ff7c54" stroke="#d86947" stroke-width=".5"/>
<path d="M1362.4 625.7L1335.39 545.30A146.5 81.8 0 0 1 1349.52 544.22Z" fill="#a4d4e0" stroke="#8bb4be" stroke-width=".5"/>
<path d="M1362.4 625.7L1349.52 544.22A146.5 81.8 0 0 1 1362.40 543.90Z" fill="#205460" stroke="#1b4751" stroke-width=".5"/>
<path d="M1508.9 625.7A146.5 81.8 0 0 1 1215.9 625.7" fill="none" stroke="#000" stroke-opacity=".25" stroke-width=".8"/>
<text transform="translate(1203.2 542.8) scale(0.9 1)" text-anchor="end">UKL<tspan dy="-1.3">_</tspan><tspan dy="1.3">DMZ</tspan><tspan dy="-1.3">_</tspan><tspan dy="1.3">FTP1 *: 1%</tspan></text>
<text transform="translate(1203.2 555.5) scale(0.9 1)" text-anchor="end">NY<tspan dy="-1.3">_</tspan><tspan dy="1.3">DMZ</tspan><tspan dy="-1.3">_</tspan><tspan dy="1.3">FTP1 *: 2%</tspan></text>
<text transform="translate(1203.2 568.6) scale(0.9 1)" text-anchor="end">SD<tspan dy="-1.3">_</tspan><tspan dy="1.3">DMZ</tspan><tspan dy="-1.3">_</tspan><tspan dy="1.3">FTP1 *: 2%</tspan></text>
<text transform="translate(1203.2 582.1) scale(0.9 1)" text-anchor="end">UKL<tspan dy="-1.3">_</tspan><tspan dy="1.3">SN</tspan><tspan dy="-1.3">_</tspan><tspan dy="1.3">DB2 *: 2%</tspan></text>
<text transform="translate(1203.2 595.1) scale(0.9 1)" text-anchor="end">NY<tspan dy="-1.3">_</tspan><tspan dy="1.3">DMZ</tspan><tspan dy="-1.3">_</tspan><tspan dy="1.3">WEB1 *: 5%</tspan></text>
<text transform="translate(1203.2 607.9) scale(0.9 1)" text-anchor="end">SD<tspan dy="-1.3">_</tspan><tspan dy="1.3">DMZ</tspan><tspan dy="-1.3">_</tspan><tspan dy="1.3">WEB1 *: 6%</tspan></text>
<text transform="translate(1203.2 620.9) scale(0.9 1)" text-anchor="end">UKL<tspan dy="-1.3">_</tspan><tspan dy="1.3">DMZ</tspan><tspan dy="-1.3">_</tspan><tspan dy="1.3">WEB1 *: 6%</tspan></text>
<text transform="translate(1382.5 612.9) scale(0.9 1)" text-anchor="start">UKL<tspan dy="-1.3">_</tspan><tspan dy="1.3">UTM1 *: 26%</tspan></text>
<text transform="translate(1249.7 645.6) scale(0.9 1)" text-anchor="start">NY<tspan dy="-1.3">_</tspan><tspan dy="1.3">UTM1 *: 25%</tspan></text>
<text transform="translate(1384.8 648.7) scale(0.9 1)" text-anchor="start">SD<tspan dy="-1.3">_</tspan><tspan dy="1.3">UTM1 *: 25%</tspan></text>
<path d="M1206.3 539.5L1355.5 539.5L1355.5 549.0" fill="none" stroke="#000" stroke-width="1"/>
<path d="M1206.3 551.6L1216.3 543.5L1341.4 543.5L1343.0 549.7" fill="none" stroke="#000" stroke-width="1"/>
<path d="M1206.3 564.7L1216.3 545.5L1326.8 545.5L1329.5 551.2" fill="none" stroke="#000" stroke-width="1"/>
<path d="M1206.3 578.1L1216.3 546.5L1311.8 546.5L1315.3 553.5" fill="none" stroke="#000" stroke-width="1"/>
<path d="M1206.3 591.2L1216.3 555.5L1280.6 555.5L1288.3 560.8" fill="none" stroke="#000" stroke-width="1"/>
<path d="M1206.3 604.3L1216.3 575.5L1244.0 575.5L1253.7 579.3" fill="none" stroke="#000" stroke-width="1"/>
<path d="M1206.3 617.0L1217.1 604.5L1231.5 604.5L1231.5 605.5" fill="none" stroke="#000" stroke-width="1"/>
<path d="M71.7 753.5H403.8M71.7 741.5H403.8M71.7 732.5H403.8M71.7 725.5H403.8M71.7 720.5H403.8M71.7 715.5H403.8M71.7 711.5H403.8M71.7 708.5H403.8M71.7 704.5H403.8M71.7 684.5H403.8M71.7 672.5H403.8M71.7 663.5H403.8M71.7 656.5H403.8M71.7 651.5H403.8M71.7 646.5H403.8M71.7 642.5H403.8M71.7 639.5H403.8M71.7 636.5H403.8M71.7 615.5H403.8M71.7 603.5H403.8M71.7 594.5H403.8M71.7 587.5H403.8M71.7 582.5H403.8M71.7 577.5H403.8M71.7 573.5H403.8M71.7 570.5H403.8M71.7 566.5H403.8M71.7 546.5H403.8M71.7 534.5H403.8M71.7 525.5H403.8M71.7 518.5H403.8M71.7 513.5H403.8M71.7 508.5H403.8M71.7 504.5H403.8M71.7 501.5H403.8" stroke="#c8ccd4" stroke-width="1" stroke-dasharray="1 2" fill="none"/>
<path d="M239.7 497.5V776.5M403.5 497.5V776.5" stroke="#c8ccd4" stroke-width="1" stroke-dasharray="1 2" fill="none"/>
<path d="M77.7 497.5H403.8V773.5" stroke="#ccd0dc" fill="none"/>
<path d="M77.7 497.5V773.5H403.8" stroke="#c2c8d4" fill="none"/>
<text transform="translate(68.0 502.3) scale(0.89 1)" text-anchor="end">10000</text>
<text transform="translate(68.0 571.3) scale(0.89 1)" text-anchor="end">1000</text>
<text transform="translate(68.0 640.3) scale(0.89 1)" text-anchor="end">100</text>
<text transform="translate(68.0 709.3) scale(0.89 1)" text-anchor="end">10</text>
<text transform="translate(68.0 778.3) scale(0.89 1)" text-anchor="end">1</text>
<text transform="translate(79.0 488.8) scale(0.915 1)" text-anchor="start">Event Count</text>
<clipPath id="p4"><rect x="29" y="425" width="404" height="446"/></clipPath>
<g clip-path="url(#p4)">
<text transform="translate(238.8 791.8) scale(0.905 1)" text-anchor="middle">8/15/2011 3:39 PM</text>
<text transform="translate(401.2 791.8) scale(0.905 1)" text-anchor="middle">8/15/2011 5:09 PM</text>
</g>
<defs>
<radialGradient id="mg" cx=".4" cy=".35" r=".7"><stop offset="0" stop-color="#9c9c9c"/><stop offset="1" stop-color="#6c6c6c"/></radialGradient>
<radialGradient id="mp" cx=".4" cy=".35" r=".7"><stop offset="0" stop-color="#b630c6"/><stop offset="1" stop-color="#860c96"/></radialGradient>
<radialGradient id="mn" cx=".4" cy=".35" r=".7"><stop offset="0" stop-color="#1a8e1a"/><stop offset="1" stop-color="#067006"/></radialGradient>
<radialGradient id="mb" cx=".4" cy=".35" r=".7"><stop offset="0" stop-color="#3050ff"/><stop offset="1" stop-color="#0000c0"/></radialGradient>
<radialGradient id="mo" cx=".4" cy=".35" r=".7"><stop offset="0" stop-color="#ffc840"/><stop offset="1" stop-color="#d89000"/></radialGradient>
</defs>
<path d="M181.5 651.3L183.3 616.3L185.1 624.7L186.9 615.3L188.7 614.3L190.6 601.3L192.4 631.9L194.2 630.5L196.0 651.0L197.8 612.5L199.6 622.9L201.4 619.4L203.2 632.2L205.0 618.2L206.8 620.1L208.7 626.3L210.5 630.7L212.3 622.7L214.1 635.8L215.9 629.0L217.7 634.7L219.5 639.6L221.3 635.2L223.1 615.4L224.9 635.7L226.8 638.8L228.6 633.8L230.4 630.5L232.2 637.8L234.0 627.6L235.8 616.0L237.6 632.4L239.4 637.3L241.2 625.1L243.0 614.9L244.9 607.5L246.7 629.2L248.5 625.2L250.3 616.6L252.1 629.7L253.9 637.2L255.7 622.1L257.5 624.3L259.3 632.7L261.1 620.4L263.0 630.8L264.8 614.4L266.6 624.6L268.4 641.0L270.2 628.7L272.0 643.6L273.8 636.1L275.6 636.6L277.4 629.0L279.2 608.5L281.1 618.8L282.9 606.7L284.7 617.1L286.5 615.0L288.3 625.1L290.1 624.0L291.9 617.7L293.7 642.1L295.5 617.5L297.3 623.9L299.2 625.1L301.0 640.9L302.8 618.4L304.6 615.1L306.4 641.7L308.2 633.8L310.0 631.6L311.8 629.2L313.6 631.6L315.4 641.9L317.3 636.9L319.1 635.5L320.9 612.0L322.7 622.1L324.5 633.7L326.3 626.8L328.1 642.0L329.9 617.4L331.7 623.0L333.5 639.5L335.4 627.7L337.2 640.9L339.0 639.8L340.8 635.3L342.6 619.3L344.4 623.6L346.2 641.5L348.0 625.5L349.8 624.9L351.6 618.5L353.5 645.4L355.3 641.7L357.1 624.1L358.9 630.2L360.7 632.5L362.5 640.4L364.3 638.7L366.1 620.2L367.9 624.8L369.7 621.6L371.6 618.0L373.4 624.2L375.2 630.6L377.0 626.1L378.8 628.3L380.6 627.4L382.4 627.2L384.2 619.1L386.0 634.6L387.8 623.4L389.7 629.9L391.5 617.3L393.3 621.3L395.1 635.9L396.9 630.0L398.7 639.8L400.5 631.5" fill="none" stroke="#a4a4a4" stroke-width="2" stroke-linejoin="round"/>
<circle cx="181.5" cy="651.3" r="3.5" fill="url(#mg)" stroke="#6c6c6c" stroke-width=".5"/>
<circle cx="183.3" cy="616.3" r="3.5" fill="url(#mg)" stroke="#6c6c6c" stroke-width=".5"/>
<circle cx="185.1" cy="624.7" r="3.5" fill="url(#mg)" stroke="#6c6c6c" stroke-width=".5"/>
<circle cx="186.9" cy="615.3" r="3.5" fill="url(#mg)" stroke="#6c6c6c" stroke-width=".5"/>
<circle cx="188.7" cy="614.3" r="3.5" fill="url(#mg)" stroke="#6c6c6c" stroke-width=".5"/>
<circle cx="190.6" cy="601.3" r="3.5" fill="url(#mg)" stroke="#6c6c6c" stroke-width=".5"/>
<circle cx="192.4" cy="631.9" r="3.5" fill="url(#mg)" stroke="#6c6c6c" stroke-width=".5"/>
<circle cx="194.2" cy="630.5" r="3.5" fill="url(#mg)" stroke="#6c6c6c" stroke-width=".5"/>
<circle cx="196.0" cy="651.0" r="3.5" fill="url(#mg)" stroke="#6c6c6c" stroke-width=".5"/>
<circle cx="197.8" cy="612.5" r="3.5" fill="url(#mg)" stroke="#6c6c6c" stroke-width=".5"/>
<circle cx="199.6" cy="622.9" r="3.5" fill="url(#mg)" stroke="#6c6c6c" stroke-width=".5"/>
<circle cx="201.4" cy="619.4" r="3.5" fill="url(#mg)" stroke="#6c6c6c" stroke-width=".5"/>
<circle cx="203.2" cy="632.2" r="3.5" fill="url(#mg)" stroke="#6c6c6c" stroke-width=".5"/>
<circle cx="205.0" cy="618.2" r="3.5" fill="url(#mg)" stroke="#6c6c6c" stroke-width=".5"/>
<circle cx="206.8" cy="620.1" r="3.5" fill="url(#mg)" stroke="#6c6c6c" stroke-width=".5"/>
<circle cx="208.7" cy="626.3" r="3.5" fill="url(#mg)" stroke="#6c6c6c" stroke-width=".5"/>
<circle cx="210.5" cy="630.7" r="3.5" fill="url(#mg)" stroke="#6c6c6c" stroke-width=".5"/>
<circle cx="212.3" cy="622.7" r="3.5" fill="url(#mg)" stroke="#6c6c6c" stroke-width=".5"/>
<circle cx="214.1" cy="635.8" r="3.5" fill="url(#mg)" stroke="#6c6c6c" stroke-width=".5"/>
<circle cx="215.9" cy="629.0" r="3.5" fill="url(#mg)" stroke="#6c6c6c" stroke-width=".5"/>
<circle cx="217.7" cy="634.7" r="3.5" fill="url(#mg)" stroke="#6c6c6c" stroke-width=".5"/>
<circle cx="219.5" cy="639.6" r="3.5" fill="url(#mg)" stroke="#6c6c6c" stroke-width=".5"/>
<circle cx="221.3" cy="635.2" r="3.5" fill="url(#mg)" stroke="#6c6c6c" stroke-width=".5"/>
<circle cx="223.1" cy="615.4" r="3.5" fill="url(#mg)" stroke="#6c6c6c" stroke-width=".5"/>
<circle cx="224.9" cy="635.7" r="3.5" fill="url(#mg)" stroke="#6c6c6c" stroke-width=".5"/>
<circle cx="226.8" cy="638.8" r="3.5" fill="url(#mg)" stroke="#6c6c6c" stroke-width=".5"/>
<circle cx="228.6" cy="633.8" r="3.5" fill="url(#mg)" stroke="#6c6c6c" stroke-width=".5"/>
<circle cx="230.4" cy="630.5" r="3.5" fill="url(#mg)" stroke="#6c6c6c" stroke-width=".5"/>
<circle cx="232.2" cy="637.8" r="3.5" fill="url(#mg)" stroke="#6c6c6c" stroke-width=".5"/>
<circle cx="234.0" cy="627.6" r="3.5" fill="url(#mg)" stroke="#6c6c6c" stroke-width=".5"/>
<circle cx="235.8" cy="616.0" r="3.5" fill="url(#mg)" stroke="#6c6c6c" stroke-width=".5"/>
<circle cx="237.6" cy="632.4" r="3.5" fill="url(#mg)" stroke="#6c6c6c" stroke-width=".5"/>
<circle cx="239.4" cy="637.3" r="3.5" fill="url(#mg)" stroke="#6c6c6c" stroke-width=".5"/>
<circle cx="241.2" cy="625.1" r="3.5" fill="url(#mg)" stroke="#6c6c6c" stroke-width=".5"/>
<circle cx="243.0" cy="614.9" r="3.5" fill="url(#mg)" stroke="#6c6c6c" stroke-width=".5"/>
<circle cx="244.9" cy="607.5" r="3.5" fill="url(#mg)" stroke="#6c6c6c" stroke-width=".5"/>
<circle cx="246.7" cy="629.2" r="3.5" fill="url(#mg)" stroke="#6c6c6c" stroke-width=".5"/>
<circle cx="248.5" cy="625.2" r="3.5" fill="url(#mg)" stroke="#6c6c6c" stroke-width=".5"/>
<circle cx="250.3" cy="616.6" r="3.5" fill="url(#mg)" stroke="#6c6c6c" stroke-width=".5"/>
<circle cx="252.1" cy="629.7" r="3.5" fill="url(#mg)" stroke="#6c6c6c" stroke-width=".5"/>
<circle cx="253.9" cy="637.2" r="3.5" fill="url(#mg)" stroke="#6c6c6c" stroke-width=".5"/>
<circle cx="255.7" cy="622.1" r="3.5" fill="url(#mg)" stroke="#6c6c6c" stroke-width=".5"/>
<circle cx="257.5" cy="624.3" r="3.5" fill="url(#mg)" stroke="#6c6c6c" stroke-width=".5"/>
<circle cx="259.3" cy="632.7" r="3.5" fill="url(#mg)" stroke="#6c6c6c" stroke-width=".5"/>
<circle cx="261.1" cy="620.4" r="3.5" fill="url(#mg)" stroke="#6c6c6c" stroke-width=".5"/>
<circle cx="263.0" cy="630.8" r="3.5" fill="url(#mg)" stroke="#6c6c6c" stroke-width=".5"/>
<circle cx="264.8" cy="614.4" r="3.5" fill="url(#mg)" stroke="#6c6c6c" stroke-width=".5"/>
<circle cx="266.6" cy="624.6" r="3.5" fill="url(#mg)" stroke="#6c6c6c" stroke-width=".5"/>
<circle cx="268.4" cy="641.0" r="3.5" fill="url(#mg)" stroke="#6c6c6c" stroke-width=".5"/>
<circle cx="270.2" cy="628.7" r="3.5" fill="url(#mg)" stroke="#6c6c6c" stroke-width=".5"/>
<circle cx="272.0" cy="643.6" r="3.5" fill="url(#mg)" stroke="#6c6c6c" stroke-width=".5"/>
<circle cx="273.8" cy="636.1" r="3.5" fill="url(#mg)" stroke="#6c6c6c" stroke-width=".5"/>
<circle cx="275.6" cy="636.6" r="3.5" fill="url(#mg)" stroke="#6c6c6c" stroke-width=".5"/>
<circle cx="277.4" cy="629.0" r="3.5" fill="url(#mg)" stroke="#6c6c6c" stroke-width=".5"/>
<circle cx="279.2" cy="608.5" r="3.5" fill="url(#mg)" stroke="#6c6c6c" stroke-width=".5"/>
<circle cx="281.1" cy="618.8" r="3.5" fill="url(#mg)" stroke="#6c6c6c" stroke-width=".5"/>
<circle cx="282.9" cy="606.7" r="3.5" fill="url(#mg)" stroke="#6c6c6c" stroke-width=".5"/>
<circle cx="284.7" cy="617.1" r="3.5" fill="url(#mg)" stroke="#6c6c6c" stroke-width=".5"/>
<circle cx="286.5" cy="615.0" r="3.5" fill="url(#mg)" stroke="#6c6c6c" stroke-width=".5"/>
<circle cx="288.3" cy="625.1" r="3.5" fill="url(#mg)" stroke="#6c6c6c" stroke-width=".5"/>
<circle cx="290.1" cy="624.0" r="3.5" fill="url(#mg)" stroke="#6c6c6c" stroke-width=".5"/>
<circle cx="291.9" cy="617.7" r="3.5" fill="url(#mg)" stroke="#6c6c6c" stroke-width=".5"/>
<circle cx="293.7" cy="642.1" r="3.5" fill="url(#mg)" stroke="#6c6c6c" stroke-width=".5"/>
<circle cx="295.5" cy="617.5" r="3.5" fill="url(#mg)" stroke="#6c6c6c" stroke-width=".5"/>
<circle cx="297.3" cy="623.9" r="3.5" fill="url(#mg)" stroke="#6c6c6c" stroke-width=".5"/>
<circle cx="299.2" cy="625.1" r="3.5" fill="url(#mg)" stroke="#6c6c6c" stroke-width=".5"/>
<circle cx="301.0" cy="640.9" r="3.5" fill="url(#mg)" stroke="#6c6c6c" stroke-width=".5"/>
<circle cx="302.8" cy="618.4" r="3.5" fill="url(#mg)" stroke="#6c6c6c" stroke-width=".5"/>
<circle cx="304.6" cy="615.1" r="3.5" fill="url(#mg)" stroke="#6c6c6c" stroke-width=".5"/>
<circle cx="306.4" cy="641.7" r="3.5" fill="url(#mg)" stroke="#6c6c6c" stroke-width=".5"/>
<circle cx="308.2" cy="633.8" r="3.5" fill="url(#mg)" stroke="#6c6c6c" stroke-width=".5"/>
<circle cx="310.0" cy="631.6" r="3.5" fill="url(#mg)" stroke="#6c6c6c" stroke-width=".5"/>
<circle cx="311.8" cy="629.2" r="3.5" fill="url(#mg)" stroke="#6c6c6c" stroke-width=".5"/>
<circle cx="313.6" cy="631.6" r="3.5" fill="url(#mg)" stroke="#6c6c6c" stroke-width=".5"/>
<circle cx="315.4" cy="641.9" r="3.5" fill="url(#mg)" stroke="#6c6c6c" stroke-width=".5"/>
<circle cx="317.3" cy="636.9" r="3.5" fill="url(#mg)" stroke="#6c6c6c" stroke-width=".5"/>
<circle cx="319.1" cy="635.5" r="3.5" fill="url(#mg)" stroke="#6c6c6c" stroke-width=".5"/>
<circle cx="320.9" cy="612.0" r="3.5" fill="url(#mg)" stroke="#6c6c6c" stroke-width=".5"/>
<circle cx="322.7" cy="622.1" r="3.5" fill="url(#mg)" stroke="#6c6c6c" stroke-width=".5"/>
<circle cx="324.5" cy="633.7" r="3.5" fill="url(#mg)" stroke="#6c6c6c" stroke-width=".5"/>
<circle cx="326.3" cy="626.8" r="3.5" fill="url(#mg)" stroke="#6c6c6c" stroke-width=".5"/>
<circle cx="328.1" cy="642.0" r="3.5" fill="url(#mg)" stroke="#6c6c6c" stroke-width=".5"/>
<circle cx="329.9" cy="617.4" r="3.5" fill="url(#mg)" stroke="#6c6c6c" stroke-width=".5"/>
<circle cx="331.7" cy="623.0" r="3.5" fill="url(#mg)" stroke="#6c6c6c" stroke-width=".5"/>
<circle cx="333.5" cy="639.5" r="3.5" fill="url(#mg)" stroke="#6c6c6c" stroke-width=".5"/>
<circle cx="335.4" cy="627.7" r="3.5" fill="url(#mg)" stroke="#6c6c6c" stroke-width=".5"/>
<circle cx="337.2" cy="640.9" r="3.5" fill="url(#mg)" stroke="#6c6c6c" stroke-width=".5"/>
<circle cx="339.0" cy="639.8" r="3.5" fill="url(#mg)" stroke="#6c6c6c" stroke-width=".5"/>
<circle cx="340.8" cy="635.3" r="3.5" fill="url(#mg)" stroke="#6c6c6c" stroke-width=".5"/>
<circle cx="342.6" cy="619.3" r="3.5" fill="url(#mg)" stroke="#6c6c6c" stroke-width=".5"/>
<circle cx="344.4" cy="623.6" r="3.5" fill="url(#mg)" stroke="#6c6c6c" stroke-width=".5"/>
<circle cx="346.2" cy="641.5" r="3.5" fill="url(#mg)" stroke="#6c6c6c" stroke-width=".5"/>
<circle cx="348.0" cy="625.5" r="3.5" fill="url(#mg)" stroke="#6c6c6c" stroke-width=".5"/>
<circle cx="349.8" cy="624.9" r="3.5" fill="url(#mg)" stroke="#6c6c6c" stroke-width=".5"/>
<circle cx="351.6" cy="618.5" r="3.5" fill="url(#mg)" stroke="#6c6c6c" stroke-width=".5"/>
<circle cx="353.5" cy="645.4" r="3.5" fill="url(#mg)" stroke="#6c6c6c" stroke-width=".5"/>
<circle cx="355.3" cy="641.7" r="3.5" fill="url(#mg)" stroke="#6c6c6c" stroke-width=".5"/>
<circle cx="357.1" cy="624.1" r="3.5" fill="url(#mg)" stroke="#6c6c6c" stroke-width=".5"/>
<circle cx="358.9" cy="630.2" r="3.5" fill="url(#mg)" stroke="#6c6c6c" stroke-width=".5"/>
<circle cx="360.7" cy="632.5" r="3.5" fill="url(#mg)" stroke="#6c6c6c" stroke-width=".5"/>
<circle cx="362.5" cy="640.4" r="3.5" fill="url(#mg)" stroke="#6c6c6c" stroke-width=".5"/>
<circle cx="364.3" cy="638.7" r="3.5" fill="url(#mg)" stroke="#6c6c6c" stroke-width=".5"/>
<circle cx="366.1" cy="620.2" r="3.5" fill="url(#mg)" stroke="#6c6c6c" stroke-width=".5"/>
<circle cx="367.9" cy="624.8" r="3.5" fill="url(#mg)" stroke="#6c6c6c" stroke-width=".5"/>
<circle cx="369.7" cy="621.6" r="3.5" fill="url(#mg)" stroke="#6c6c6c" stroke-width=".5"/>
<circle cx="371.6" cy="618.0" r="3.5" fill="url(#mg)" stroke="#6c6c6c" stroke-width=".5"/>
<circle cx="373.4" cy="624.2" r="3.5" fill="url(#mg)" stroke="#6c6c6c" stroke-width=".5"/>
<circle cx="375.2" cy="630.6" r="3.5" fill="url(#mg)" stroke="#6c6c6c" stroke-width=".5"/>
<circle cx="377.0" cy="626.1" r="3.5" fill="url(#mg)" stroke="#6c6c6c" stroke-width=".5"/>
<circle cx="378.8" cy="628.3" r="3.5" fill="url(#mg)" stroke="#6c6c6c" stroke-width=".5"/>
<circle cx="380.6" cy="627.4" r="3.5" fill="url(#mg)" stroke="#6c6c6c" stroke-width=".5"/>
<circle cx="382.4" cy="627.2" r="3.5" fill="url(#mg)" stroke="#6c6c6c" stroke-width=".5"/>
<circle cx="384.2" cy="619.1" r="3.5" fill="url(#mg)" stroke="#6c6c6c" stroke-width=".5"/>
<circle cx="386.0" cy="634.6" r="3.5" fill="url(#mg)" stroke="#6c6c6c" stroke-width=".5"/>
<circle cx="387.8" cy="623.4" r="3.5" fill="url(#mg)" stroke="#6c6c6c" stroke-width=".5"/>
<circle cx="389.7" cy="629.9" r="3.5" fill="url(#mg)" stroke="#6c6c6c" stroke-width=".5"/>
<circle cx="391.5" cy="617.3" r="3.5" fill="url(#mg)" stroke="#6c6c6c" stroke-width=".5"/>
<circle cx="393.3" cy="621.3" r="3.5" fill="url(#mg)" stroke="#6c6c6c" stroke-width=".5"/>
<circle cx="395.1" cy="635.9" r="3.5" fill="url(#mg)" stroke="#6c6c6c" stroke-width=".5"/>
<circle cx="396.9" cy="630.0" r="3.5" fill="url(#mg)" stroke="#6c6c6c" stroke-width=".5"/>
<circle cx="398.7" cy="639.8" r="3.5" fill="url(#mg)" stroke="#6c6c6c" stroke-width=".5"/>
<circle cx="400.5" cy="631.5" r="3.5" fill="url(#mg)" stroke="#6c6c6c" stroke-width=".5"/>
<path d="M181.5 773.3L182.8 625.1L183.9 677.3L186.0 694.3L187.9 636.3L189.5 613.1L191.9 567.0L193.2 654.3L194.8 740.3L196.7 682.3L198.8 692.3L200.9 597.1L202.0 643.3L203.9 657.1L205.7 715.3L208.0 773.3L210.0 725.1L211.9 670.3L212.9 656.3L214.8 610.3L216.9 620.3L218.8 617.3L220.7 675.3L221.7 580.3L224.0 578.3L226.0 595.3L227.9 694.3L230.3 694.3L230.8 635.0L232.7 677.3L234.8 635.0L236.7 688.3L238.8 584.3L239.9 720.3L243.9 720.8L246.0 692.3L247.6 681.3L248.9 675.0L250.8 618.3L252.7 707.3L254.8 684.3L256.9 715.3L258.0 613.1L260.0 676.8L262.0 662.3L263.3 578.3L265.5 622.3L267.0 559.8L269.0 572.3L270.8 773.3L272.7 711.0L274.5 704.3L276.7 653.3L278.0 773.3L279.9 715.0L282.0 719.3L284.0 725.1L285.7 615.3L287.3 684.3L289.0 688.3L290.9 576.3L292.5 595.3L295.0 711.0L297.8 593.1L299.7 696.3L301.5 664.3L303.7 576.8L305.0 711.0L306.9 684.3L309.0 670.3L310.9 581.1L312.7 632.3L313.8 688.3L316.2 599.0L317.8 707.3L319.7 694.3L321.5 699.3L322.6 687.0L325.0 711.0L326.9 584.3L329.0 589.1L330.9 707.3L332.2 596.3L334.0 703.8L335.7 627.0L337.8 696.3L339.9 557.1L341.8 585.1L342.9 715.0L345.0 703.8L347.1 752.3L349.3 715.0L350.9 653.3L351.9 677.1L353.8 573.1L355.9 590.2L357.8 696.3L359.7 628.3L361.0 637.3L362.9 627.0L364.5 670.2L366.9 703.8L369.0 571.0L369.8 661.3L371.9 690.3L373.5 624.3L375.9 606.2L377.5 732.3L378.6 673.3L381.0 694.3L383.0 696.3L384.7 581.1L386.6 676.3L387.9 581.1L389.8 701.1L391.7 648.3L393.8 575.8L395.7 629.1L397.0 614.3L399.0 628.3L401.5 773.3" fill="none" stroke="#9a12aa" stroke-width="2" stroke-linejoin="round"/>
<circle cx="182.8" cy="625.1" r="3.6" fill="url(#mp)" stroke="#700878" stroke-width=".5"/>
<circle cx="183.9" cy="677.3" r="3.6" fill="url(#mp)" stroke="#700878" stroke-width=".5"/>
<circle cx="186.0" cy="694.3" r="3.6" fill="url(#mp)" stroke="#700878" stroke-width=".5"/>
<circle cx="187.9" cy="636.3" r="3.6" fill="url(#mp)" stroke="#700878" stroke-width=".5"/>
<circle cx="189.5" cy="613.1" r="3.6" fill="url(#mp)" stroke="#700878" stroke-width=".5"/>
<circle cx="191.9" cy="567.0" r="3.6" fill="url(#mp)" stroke="#700878" stroke-width=".5"/>
<circle cx="193.2" cy="654.3" r="3.6" fill="url(#mp)" stroke="#700878" stroke-width=".5"/>
<circle cx="194.8" cy="740.3" r="3.6" fill="url(#mp)" stroke="#700878" stroke-width=".5"/>
<circle cx="196.7" cy="682.3" r="3.6" fill="url(#mp)" stroke="#700878" stroke-width=".5"/>
<circle cx="198.8" cy="692.3" r="3.6" fill="url(#mp)" stroke="#700878" stroke-width=".5"/>
<circle cx="200.9" cy="597.1" r="3.6" fill="url(#mp)" stroke="#700878" stroke-width=".5"/>
<circle cx="202.0" cy="643.3" r="3.6" fill="url(#mp)" stroke="#700878" stroke-width=".5"/>
<circle cx="203.9" cy="657.1" r="3.6" fill="url(#mp)" stroke="#700878" stroke-width=".5"/>
<circle cx="205.7" cy="715.3" r="3.6" fill="url(#mp)" stroke="#700878" stroke-width=".5"/>
<circle cx="210.0" cy="725.1" r="3.6" fill="url(#mp)" stroke="#700878" stroke-width=".5"/>
<circle cx="211.9" cy="670.3" r="3.6" fill="url(#mp)" stroke="#700878" stroke-width=".5"/>
<circle cx="212.9" cy="656.3" r="3.6" fill="url(#mp)" stroke="#700878" stroke-width=".5"/>
<circle cx="214.8" cy="610.3" r="3.6" fill="url(#mp)" stroke="#700878" stroke-width=".5"/>
<circle cx="216.9" cy="620.3" r="3.6" fill="url(#mp)" stroke="#700878" stroke-width=".5"/>
<circle cx="218.8" cy="617.3" r="3.6" fill="url(#mp)" stroke="#700878" stroke-width=".5"/>
<circle cx="220.7" cy="675.3" r="3.6" fill="url(#mp)" stroke="#700878" stroke-width=".5"/>
<circle cx="221.7" cy="580.3" r="3.6" fill="url(#mp)" stroke="#700878" stroke-width=".5"/>
<circle cx="224.0" cy="578.3" r="3.6" fill="url(#mp)" stroke="#700878" stroke-width=".5"/>
<circle cx="226.0" cy="595.3" r="3.6" fill="url(#mp)" stroke="#700878" stroke-width=".5"/>
<circle cx="227.9" cy="694.3" r="3.6" fill="url(#mp)" stroke="#700878" stroke-width=".5"/>
<circle cx="230.3" cy="694.3" r="3.6" fill="url(#mp)" stroke="#700878" stroke-width=".5"/>
<circle cx="230.8" cy="635.0" r="3.6" fill="url(#mp)" stroke="#700878" stroke-width=".5"/>
<circle cx="232.7" cy="677.3" r="3.6" fill="url(#mp)" stroke="#700878" stroke-width=".5"/>
<circle cx="234.8" cy="635.0" r="3.6" fill="url(#mp)" stroke="#700878" stroke-width=".5"/>
<circle cx="236.7" cy="688.3" r="3.6" fill="url(#mp)" stroke="#700878" stroke-width=".5"/>
<circle cx="238.8" cy="584.3" r="3.6" fill="url(#mp)" stroke="#700878" stroke-width=".5"/>
<circle cx="239.9" cy="720.3" r="3.6" fill="url(#mp)" stroke="#700878" stroke-width=".5"/>
<circle cx="243.9" cy="720.8" r="3.6" fill="url(#mp)" stroke="#700878" stroke-width=".5"/>
<circle cx="246.0" cy="692.3" r="3.6" fill="url(#mp)" stroke="#700878" stroke-width=".5"/>
<circle cx="247.6" cy="681.3" r="3.6" fill="url(#mp)" stroke="#700878" stroke-width=".5"/>
<circle cx="248.9" cy="675.0" r="3.6" fill="url(#mp)" stroke="#700878" stroke-width=".5"/>
<circle cx="250.8" cy="618.3" r="3.6" fill="url(#mp)" stroke="#700878" stroke-width=".5"/>
<circle cx="252.7" cy="707.3" r="3.6" fill="url(#mp)" stroke="#700878" stroke-width=".5"/>
<circle cx="254.8" cy="684.3" r="3.6" fill="url(#mp)" stroke="#700878" stroke-width=".5"/>
<circle cx="256.9" cy="715.3" r="3.6" fill="url(#mp)" stroke="#700878" stroke-width=".5"/>
<circle cx="258.0" cy="613.1" r="3.6" fill="url(#mp)" stroke="#700878" stroke-width=".5"/>
<circle cx="260.0" cy="676.8" r="3.6" fill="url(#mp)" stroke="#700878" stroke-width=".5"/>
<circle cx="262.0" cy="662.3" r="3.6" fill="url(#mp)" stroke="#700878" stroke-width=".5"/>
<circle cx="263.3" cy="578.3" r="3.6" fill="url(#mp)" stroke="#700878" stroke-width=".5"/>
<circle cx="265.5" cy="622.3" r="3.6" fill="url(#mp)" stroke="#700878" stroke-width=".5"/>
<circle cx="267.0" cy="559.8" r="3.6" fill="url(#mp)" stroke="#700878" stroke-width=".5"/>
<circle cx="269.0" cy="572.3" r="3.6" fill="url(#mp)" stroke="#700878" stroke-width=".5"/>
<circle cx="272.7" cy="711.0" r="3.6" fill="url(#mp)" stroke="#700878" stroke-width=".5"/>
<circle cx="274.5" cy="704.3" r="3.6" fill="url(#mp)" stroke="#700878" stroke-width=".5"/>
<circle cx="276.7" cy="653.3" r="3.6" fill="url(#mp)" stroke="#700878" stroke-width=".5"/>
<circle cx="279.9" cy="715.0" r="3.6" fill="url(#mp)" stroke="#700878" stroke-width=".5"/>
<circle cx="282.0" cy="719.3" r="3.6" fill="url(#mp)" stroke="#700878" stroke-width=".5"/>
<circle cx="284.0" cy="725.1" r="3.6" fill="url(#mp)" stroke="#700878" stroke-width=".5"/>
<circle cx="285.7" cy="615.3" r="3.6" fill="url(#mp)" stroke="#700878" stroke-width=".5"/>
<circle cx="287.3" cy="684.3" r="3.6" fill="url(#mp)" stroke="#700878" stroke-width=".5"/>
<circle cx="289.0" cy="688.3" r="3.6" fill="url(#mp)" stroke="#700878" stroke-width=".5"/>
<circle cx="290.9" cy="576.3" r="3.6" fill="url(#mp)" stroke="#700878" stroke-width=".5"/>
<circle cx="292.5" cy="595.3" r="3.6" fill="url(#mp)" stroke="#700878" stroke-width=".5"/>
<circle cx="295.0" cy="711.0" r="3.6" fill="url(#mp)" stroke="#700878" stroke-width=".5"/>
<circle cx="297.8" cy="593.1" r="3.6" fill="url(#mp)" stroke="#700878" stroke-width=".5"/>
<circle cx="299.7" cy="696.3" r="3.6" fill="url(#mp)" stroke="#700878" stroke-width=".5"/>
<circle cx="301.5" cy="664.3" r="3.6" fill="url(#mp)" stroke="#700878" stroke-width=".5"/>
<circle cx="303.7" cy="576.8" r="3.6" fill="url(#mp)" stroke="#700878" stroke-width=".5"/>
<circle cx="305.0" cy="711.0" r="3.6" fill="url(#mp)" stroke="#700878" stroke-width=".5"/>
<circle cx="306.9" cy="684.3" r="3.6" fill="url(#mp)" stroke="#700878" stroke-width=".5"/>
<circle cx="309.0" cy="670.3" r="3.6" fill="url(#mp)" stroke="#700878" stroke-width=".5"/>
<circle cx="310.9" cy="581.1" r="3.6" fill="url(#mp)" stroke="#700878" stroke-width=".5"/>
<circle cx="312.7" cy="632.3" r="3.6" fill="url(#mp)" stroke="#700878" stroke-width=".5"/>
<circle cx="313.8" cy="688.3" r="3.6" fill="url(#mp)" stroke="#700878" stroke-width=".5"/>
<circle cx="316.2" cy="599.0" r="3.6" fill="url(#mp)" stroke="#700878" stroke-width=".5"/>
<circle cx="317.8" cy="707.3" r="3.6" fill="url(#mp)" stroke="#700878" stroke-width=".5"/>
<circle cx="319.7" cy="694.3" r="3.6" fill="url(#mp)" stroke="#700878" stroke-width=".5"/>
<circle cx="321.5" cy="699.3" r="3.6" fill="url(#mp)" stroke="#700878" stroke-width=".5"/>
<circle cx="322.6" cy="687.0" r="3.6" fill="url(#mp)" stroke="#700878" stroke-width=".5"/>
<circle cx="325.0" cy="711.0" r="3.6" fill="url(#mp)" stroke="#700878" stroke-width=".5"/>
<circle cx="326.9" cy="584.3" r="3.6" fill="url(#mp)" stroke="#700878" stroke-width=".5"/>
<circle cx="329.0" cy="589.1" r="3.6" fill="url(#mp)" stroke="#700878" stroke-width=".5"/>
<circle cx="330.9" cy="707.3" r="3.6" fill="url(#mp)" stroke="#700878" stroke-width=".5"/>
<circle cx="332.2" cy="596.3" r="3.6" fill="url(#mp)" stroke="#700878" stroke-width=".5"/>
<circle cx="334.0" cy="703.8" r="3.6" fill="url(#mp)" stroke="#700878" stroke-width=".5"/>
<circle cx="335.7" cy="627.0" r="3.6" fill="url(#mp)" stroke="#700878" stroke-width=".5"/>
<circle cx="337.8" cy="696.3" r="3.6" fill="url(#mp)" stroke="#700878" stroke-width=".5"/>
<circle cx="339.9" cy="557.1" r="3.6" fill="url(#mp)" stroke="#700878" stroke-width=".5"/>
<circle cx="341.8" cy="585.1" r="3.6" fill="url(#mp)" stroke="#700878" stroke-width=".5"/>
<circle cx="342.9" cy="715.0" r="3.6" fill="url(#mp)" stroke="#700878" stroke-width=".5"/>
<circle cx="345.0" cy="703.8" r="3.6" fill="url(#mp)" stroke="#700878" stroke-width=".5"/>
<circle cx="347.1" cy="752.3" r="3.6" fill="url(#mp)" stroke="#700878" stroke-width=".5"/>
<circle cx="349.3" cy="715.0" r="3.6" fill="url(#mp)" stroke="#700878" stroke-width=".5"/>
<circle cx="350.9" cy="653.3" r="3.6" fill="url(#mp)" stroke="#700878" stroke-width=".5"/>
<circle cx="351.9" cy="677.1" r="3.6" fill="url(#mp)" stroke="#700878" stroke-width=".5"/>
<circle cx="353.8" cy="573.1" r="3.6" fill="url(#mp)" stroke="#700878" stroke-width=".5"/>
<circle cx="355.9" cy="590.2" r="3.6" fill="url(#mp)" stroke="#700878" stroke-width=".5"/>
<circle cx="357.8" cy="696.3" r="3.6" fill="url(#mp)" stroke="#700878" stroke-width=".5"/>
<circle cx="359.7" cy="628.3" r="3.6" fill="url(#mp)" stroke="#700878" stroke-width=".5"/>
<circle cx="361.0" cy="637.3" r="3.6" fill="url(#mp)" stroke="#700878" stroke-width=".5"/>
<circle cx="362.9" cy="627.0" r="3.6" fill="url(#mp)" stroke="#700878" stroke-width=".5"/>
<circle cx="364.5" cy="670.2" r="3.6" fill="url(#mp)" stroke="#700878" stroke-width=".5"/>
<circle cx="366.9" cy="703.8" r="3.6" fill="url(#mp)" stroke="#700878" stroke-width=".5"/>
<circle cx="369.0" cy="571.0" r="3.6" fill="url(#mp)" stroke="#700878" stroke-width=".5"/>
<circle cx="369.8" cy="661.3" r="3.6" fill="url(#mp)" stroke="#700878" stroke-width=".5"/>
<circle cx="371.9" cy="690.3" r="3.6" fill="url(#mp)" stroke="#700878" stroke-width=".5"/>
<circle cx="373.5" cy="624.3" r="3.6" fill="url(#mp)" stroke="#700878" stroke-width=".5"/>
<circle cx="375.9" cy="606.2" r="3.6" fill="url(#mp)" stroke="#700878" stroke-width=".5"/>
<circle cx="377.5" cy="732.3" r="3.6" fill="url(#mp)" stroke="#700878" stroke-width=".5"/>
<circle cx="378.6" cy="673.3" r="3.6" fill="url(#mp)" stroke="#700878" stroke-width=".5"/>
<circle cx="381.0" cy="694.3" r="3.6" fill="url(#mp)" stroke="#700878" stroke-width=".5"/>
<circle cx="383.0" cy="696.3" r="3.6" fill="url(#mp)" stroke="#700878" stroke-width=".5"/>
<circle cx="384.7" cy="581.1" r="3.6" fill="url(#mp)" stroke="#700878" stroke-width=".5"/>
<circle cx="386.6" cy="676.3" r="3.6" fill="url(#mp)" stroke="#700878" stroke-width=".5"/>
<circle cx="387.9" cy="581.1" r="3.6" fill="url(#mp)" stroke="#700878" stroke-width=".5"/>
<circle cx="389.8" cy="701.1" r="3.6" fill="url(#mp)" stroke="#700878" stroke-width=".5"/>
<circle cx="391.7" cy="648.3" r="3.6" fill="url(#mp)" stroke="#700878" stroke-width=".5"/>
<circle cx="393.8" cy="575.8" r="3.6" fill="url(#mp)" stroke="#700878" stroke-width=".5"/>
<circle cx="395.7" cy="629.1" r="3.6" fill="url(#mp)" stroke="#700878" stroke-width=".5"/>
<circle cx="397.0" cy="614.3" r="3.6" fill="url(#mp)" stroke="#700878" stroke-width=".5"/>
<circle cx="399.0" cy="628.3" r="3.6" fill="url(#mp)" stroke="#700878" stroke-width=".5"/>
<path d="M190.3 773.5L192.0 752.7L193.7 773.5M210.1 773.5L211.8 752.7L213.5 773.5M219.6 773.5L221.3 752.7L223.0 773.5M222.2 773.5L223.9 752.7L225.6 773.5M237.2 773.5L238.9 740.6L240.6 773.5M262.0 773.5L263.7 752.7L265.4 773.5M267.3 773.5L269.0 752.7L270.7 773.5M293.4 773.5L295.1 740.6L296.8 773.5M309.2 773.5L310.9 752.7L312.6 773.5M312.1 773.5L313.8 752.7L315.5 773.5M326.8 773.5L328.5 752.7L330.2 773.5M330.5 773.5L332.2 752.7L333.9 773.5M338.2 773.5L339.9 732.0L341.6 773.5M340.1 773.5L341.8 752.7L343.5 773.5M352.1 773.5L353.8 740.6L355.5 773.5M374.2 773.5L375.9 740.6L377.6 773.5M383.0 773.5L384.7 732.0L386.4 773.5M385.2 773.5L386.9 719.8L388.6 773.5" fill="none" stroke="#0a7c0a" stroke-width="2" stroke-linejoin="round"/>
<circle cx="182.5" cy="773.5" r="3.6" fill="url(#mn)" stroke="#005800" stroke-width=".5"/>
<circle cx="184.8" cy="773.5" r="3.6" fill="url(#mn)" stroke="#005800" stroke-width=".5"/>
<circle cx="187.9" cy="773.5" r="3.6" fill="url(#mn)" stroke="#005800" stroke-width=".5"/>
<circle cx="196.7" cy="773.5" r="3.6" fill="url(#mn)" stroke="#005800" stroke-width=".5"/>
<circle cx="214.5" cy="773.5" r="3.6" fill="url(#mn)" stroke="#005800" stroke-width=".5"/>
<circle cx="220.7" cy="773.5" r="3.6" fill="url(#mn)" stroke="#005800" stroke-width=".5"/>
<circle cx="226.5" cy="773.5" r="3.6" fill="url(#mn)" stroke="#005800" stroke-width=".5"/>
<circle cx="234.9" cy="773.5" r="3.6" fill="url(#mn)" stroke="#005800" stroke-width=".5"/>
<circle cx="241.1" cy="773.5" r="3.6" fill="url(#mn)" stroke="#005800" stroke-width=".5"/>
<circle cx="245.5" cy="773.5" r="3.6" fill="url(#mn)" stroke="#005800" stroke-width=".5"/>
<circle cx="250.9" cy="773.5" r="3.6" fill="url(#mn)" stroke="#005800" stroke-width=".5"/>
<circle cx="266.8" cy="773.5" r="3.6" fill="url(#mn)" stroke="#005800" stroke-width=".5"/>
<circle cx="275.3" cy="773.5" r="3.6" fill="url(#mn)" stroke="#005800" stroke-width=".5"/>
<circle cx="285.5" cy="773.5" r="3.6" fill="url(#mn)" stroke="#005800" stroke-width=".5"/>
<circle cx="291.0" cy="773.5" r="3.6" fill="url(#mn)" stroke="#005800" stroke-width=".5"/>
<circle cx="297.0" cy="773.5" r="3.6" fill="url(#mn)" stroke="#005800" stroke-width=".5"/>
<circle cx="302.3" cy="773.5" r="3.6" fill="url(#mn)" stroke="#005800" stroke-width=".5"/>
<circle cx="311.7" cy="773.5" r="3.6" fill="url(#mn)" stroke="#005800" stroke-width=".5"/>
<circle cx="316.5" cy="773.5" r="3.6" fill="url(#mn)" stroke="#005800" stroke-width=".5"/>
<circle cx="326.9" cy="773.5" r="3.6" fill="url(#mn)" stroke="#005800" stroke-width=".5"/>
<circle cx="337.8" cy="773.5" r="3.6" fill="url(#mn)" stroke="#005800" stroke-width=".5"/>
<circle cx="364.2" cy="773.5" r="3.6" fill="url(#mn)" stroke="#005800" stroke-width=".5"/>
<circle cx="369.0" cy="773.5" r="3.6" fill="url(#mn)" stroke="#005800" stroke-width=".5"/>
<circle cx="387.9" cy="773.5" r="3.6" fill="url(#mn)" stroke="#005800" stroke-width=".5"/>
<circle cx="396.2" cy="773.5" r="3.6" fill="url(#mn)" stroke="#005800" stroke-width=".5"/>
<circle cx="192.0" cy="752.7" r="3.6" fill="url(#mn)" stroke="#005800" stroke-width=".5"/>
<circle cx="211.8" cy="752.7" r="3.6" fill="url(#mn)" stroke="#005800" stroke-width=".5"/>
<circle cx="221.3" cy="752.7" r="3.6" fill="url(#mn)" stroke="#005800" stroke-width=".5"/>
<circle cx="223.9" cy="752.7" r="3.6" fill="url(#mn)" stroke="#005800" stroke-width=".5"/>
<circle cx="238.9" cy="740.6" r="3.6" fill="url(#mn)" stroke="#005800" stroke-width=".5"/>
<circle cx="263.7" cy="752.7" r="3.6" fill="url(#mn)" stroke="#005800" stroke-width=".5"/>
<circle cx="269.0" cy="752.7" r="3.6" fill="url(#mn)" stroke="#005800" stroke-width=".5"/>
<circle cx="295.1" cy="740.6" r="3.6" fill="url(#mn)" stroke="#005800" stroke-width=".5"/>
<circle cx="310.9" cy="752.7" r="3.6" fill="url(#mn)" stroke="#005800" stroke-width=".5"/>
<circle cx="313.8" cy="752.7" r="3.6" fill="url(#mn)" stroke="#005800" stroke-width=".5"/>
<circle cx="328.5" cy="752.7" r="3.6" fill="url(#mn)" stroke="#005800" stroke-width=".5"/>
<circle cx="332.2" cy="752.7" r="3.6" fill="url(#mn)" stroke="#005800" stroke-width=".5"/>
<circle cx="339.9" cy="732.0" r="3.6" fill="url(#mn)" stroke="#005800" stroke-width=".5"/>
<circle cx="341.8" cy="752.7" r="3.6" fill="url(#mn)" stroke="#005800" stroke-width=".5"/>
<circle cx="353.8" cy="740.6" r="3.6" fill="url(#mn)" stroke="#005800" stroke-width=".5"/>
<circle cx="375.9" cy="740.6" r="3.6" fill="url(#mn)" stroke="#005800" stroke-width=".5"/>
<circle cx="384.7" cy="732.0" r="3.6" fill="url(#mn)" stroke="#005800" stroke-width=".5"/>
<circle cx="386.9" cy="719.8" r="3.6" fill="url(#mn)" stroke="#005800" stroke-width=".5"/>
<path d="M114.5 821.6H132.5" stroke="#088008" stroke-width="2"/>
<circle cx="123.5" cy="821.6" r="3.4" fill="url(#mn)" stroke="#005800" stroke-width=".5"/>
<text transform="translate(138.1 826.1) scale(0.915 1)" text-anchor="start">Local</text>
<path d="M198.5 821.6H216.5" stroke="#0000e0" stroke-width="2"/>
<circle cx="207.5" cy="821.6" r="3.4" fill="url(#mb)" stroke="#0000a0" stroke-width=".5"/>
<text transform="translate(222.1 826.1) scale(0.915 1)" text-anchor="start">Internal</text>
<path d="M282.5 821.6H300.5" stroke="#9c14ac" stroke-width="2"/>
<circle cx="291.5" cy="821.6" r="3.4" fill="url(#mp)" stroke="#700878" stroke-width=".5"/>
<text transform="translate(306.1 826.1) scale(0.915 1)" text-anchor="start">External</text>
<path d="M114.5 846.3H132.5" stroke="#f0a000" stroke-width="2"/>
<circle cx="123.5" cy="846.3" r="3.4" fill="url(#mo)" stroke="#b07800" stroke-width=".5"/>
<text transform="translate(138.1 850.8) scale(0.915 1)" text-anchor="start">Outbound</text>
<path d="M198.5 846.3H216.5" stroke="#808080" stroke-width="2"/>
<circle cx="207.5" cy="846.3" r="3.4" fill="url(#mg)" stroke="#606060" stroke-width=".5"/>
<text transform="translate(222.1 850.8) scale(0.915 1)" text-anchor="start">Unknown</text>
</svg>
</body></html>
